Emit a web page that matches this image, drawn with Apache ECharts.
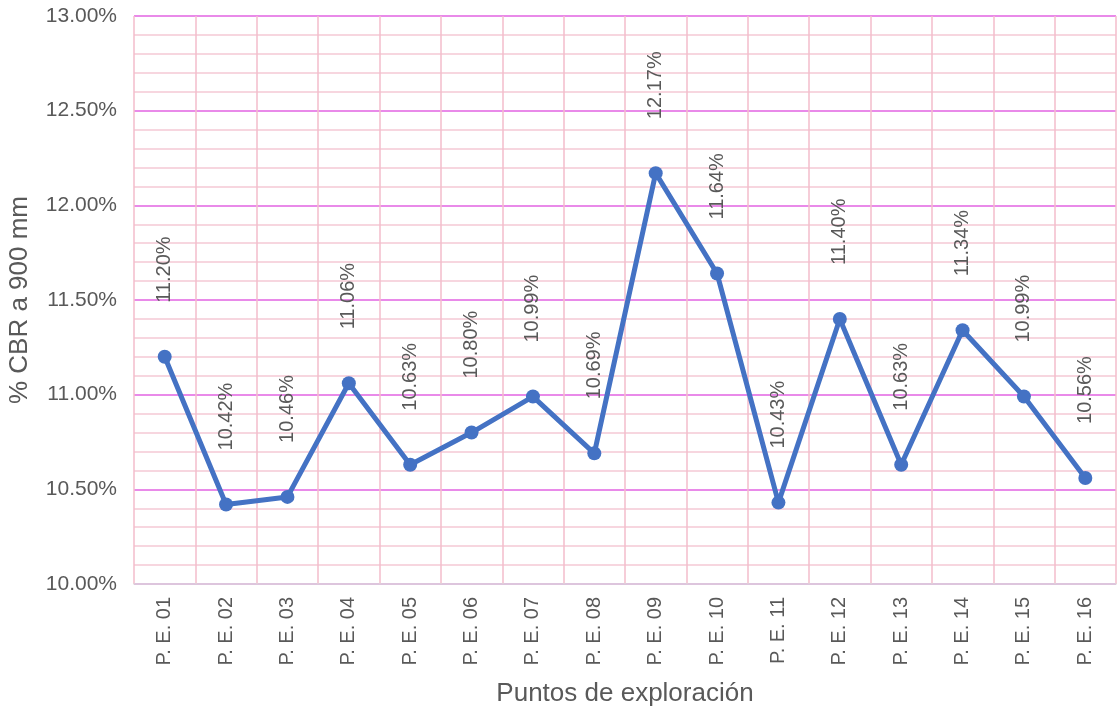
<!DOCTYPE html>
<html>
<head>
<meta charset="utf-8">
<script src="https://cdn.jsdelivr.net/npm/echarts@6/dist/echarts.min.js"></script>
<style>
  html, body { margin: 0; padding: 0; background: #fff; }
  #chart { width: 1117px; height: 713px; }
</style>
</head>
<body>
<div id="chart"></div>
<script>
// puntos de exploración y CBR
var categories = ["P. E. 01", "P. E. 02", "P. E. 03", "P. E. 04", "P. E. 05", "P. E. 06", "P. E. 07", "P. E. 08",
  "P. E. 09", "P. E. 10", "P. E. 11", "P. E. 12", "P. E. 13", "P. E. 14", "P. E. 15", "P. E. 16"];
var cbrValues = [11.20, 10.42, 10.46, 11.06, 10.63, 10.80, 10.99, 10.69, 12.17, 11.64, 10.43, 11.40, 10.63, 11.34, 10.99, 10.56];
var yMin = 10, yMax = 13, yStep = 0.5;

var chart = echarts.init(document.getElementById("chart"));
var option = {
  backgroundColor: "#fff",
  textStyle: { fontFamily: "Liberation Sans, Arial, sans-serif" },
  grid: { left: 134, right: 1, top: 16, bottom: 129, outerBoundsMode: "none", containLabel: false },
  xAxis: {
    type: "category",
    data: categories,
    boundaryGap: true,
    name: "Puntos de exploración",
    nameLocation: "middle",
    nameGap: 97,
    nameTextStyle: { fontSize: 26, color: "#595959" },
    axisLine: { show: true, lineStyle: { color: "#d9d9d9", width: 1.5 } },
    axisTick: { show: false },
    axisLabel: { rotate: 90, fontSize: 20, color: "#595959", margin: 13, interval: 0 },
    splitLine: { show: true, interval: 0, lineStyle: { color: "#f3bccb", width: 1.5 } }
  },
  yAxis: {
    type: "value",
    min: yMin,
    max: yMax,
    interval: yStep,
    name: "% CBR a 900 mm",
    nameLocation: "middle",
    nameGap: 101,
    nameTextStyle: { fontSize: 26, color: "#595959" },
    axisLine: { show: false },
    axisTick: { show: false },
    axisLabel: {
      fontSize: 21, color: "#595959", margin: 17,
      formatter: function (v) { return v.toFixed(2) + "%"; }
    },
    splitLine: { show: true, lineStyle: { color: "#e98ae9", width: 2 } },
    minorTick: { show: false, splitNumber: 5 },
    minorSplitLine: { show: true, lineStyle: { color: "#f5c9d5", width: 1.5 } }
  },
  series: [
    {
      type: "line",
      data: cbrValues,
      symbol: "circle",
      symbolSize: 14,
      lineStyle: { color: "#4472c4", width: 5 },
      itemStyle: { color: "#4472c4" },
      label: {
        show: true,
        position: "top",
        rotate: 90,
        align: "left",
        verticalAlign: "middle",
        distance: 47,
        fontSize: 20,
        color: "#595959",
        formatter: function (p) { return p.value.toFixed(2) + "%"; }
      }
    }
  ]
};
chart.setOption(option);
</script>
</body>
</html>
